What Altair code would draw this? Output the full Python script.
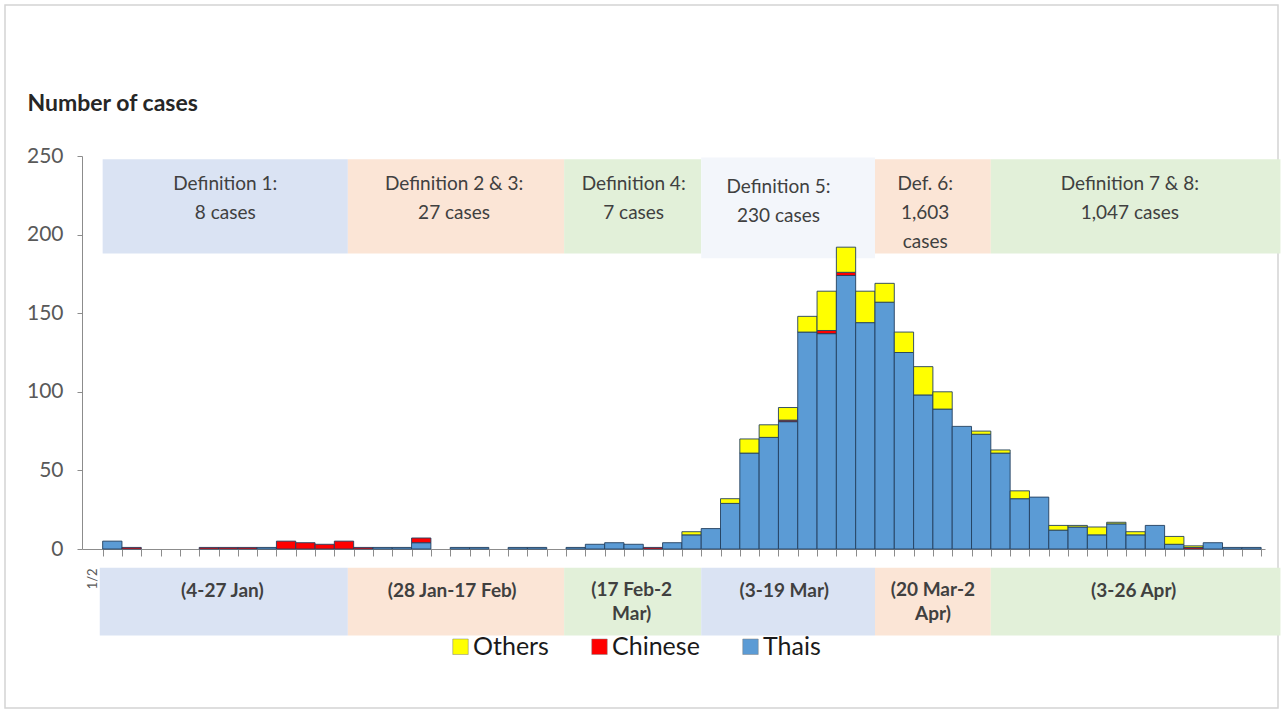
import altair as alt
import pandas as pd

# ---- data (2-day bins, index 0..59) ----
bins = list(range(60))
thais = [5, 0, 0, 0, 0, 0, 0, 0, 1, 0,
         0, 0, 0, 0, 1, 1, 4, 0, 1, 1,
         0, 1, 1, 0, 1, 3, 4, 3, 0, 4,
         9, 13, 29, 61, 71, 81, 138, 137, 174, 144,
         157, 125, 98, 89, 78, 73, 61, 32, 33, 12,
         14, 9, 16, 9, 15, 3, 0, 4, 1, 1]
chinese = [0, 1, 0, 0, 0, 1, 1, 1, 0, 5,
           4, 3, 5, 1, 0, 0, 3, 0, 0, 0,
           0, 0, 0, 0, 0, 0, 0, 0, 1, 0,
           0, 0, 0, 0, 0, 1, 0, 2, 2, 0,
           0, 0, 0, 0, 0, 0, 0, 0, 0, 0,
           0, 0, 0, 0, 0, 0, 1, 0, 0, 0]
others = [0, 0, 0, 0, 0, 0, 0, 0, 0, 0,
          0, 0, 0, 0, 0, 0, 0, 0, 0, 0,
          0, 0, 0, 0, 0, 0, 0, 0, 0, 0,
          2, 0, 3, 9, 8, 8, 10, 25, 16, 20,
          12, 13, 18, 11, 0, 2, 2, 5, 0, 3,
          1, 5, 1, 2, 0, 5, 1, 0, 0, 0]

groups = ["Others", "Chinese", "Thais"]
group_colors = ["#ffff00", "#ff0000", "#5b9bd5"]

# case-definition periods (in bin units)
period_start = [0, 12.7, 23.9, 31.0, 40.0, 46.0]
period_end = [12.7, 23.9, 31.0, 40.0, 46.0, 61.0]
def_labels = ["Definition 1:\n8 cases", "Definition 2 & 3:\n27 cases",
              "Definition 4:\n7  cases", "Definition 5:\n230 cases",
              "Def. 6:\n1,603\ncases", "Definition 7 & 8:\n1,047 cases"]
date_labels = ["(4-27 Jan)", "(28 Jan-17 Feb)", "(17 Feb-2\nMar)",
               "(3-19 Mar)", "(20 Mar-2\nApr)", "(3-26 Apr)"]
first_tick_label = "1/2"
y_ticks = [0, 50, 100, 150, 200, 250]

# ---- build tables ----
rows = []
for i in bins:
    for g, arr, o in (("Thais", thais, 0), ("Chinese", chinese, 1), ("Others", others, 2)):
        if arr[i] > 0:
            rows.append(dict(bin=i, bin_end=i + 1, group=g, cases=arr[i], order=o))
bars_df = pd.DataFrame(rows)

top_fill = ["#dae3f3", "#fbe5d6", "#e2f0d9", "#f3f6fb", "#fbe5d6", "#e2f0d9"]
bot_fill = ["#dae3f3", "#fbe5d6", "#e2f0d9", "#dae3f3", "#fbe5d6", "#e2f0d9"]
top_y1 = [248, 248, 248, 249, 248, 248]
top_y2 = [188, 188, 188, 185, 188, 188]
top_text_x = [6.35, 18.2, 27.5, 35.0, 42.6, 53.2]
top_text_y = [232.5, 232.5, 232.5, 230.0, 232.5, 232.5]
bot_text_x = [6.2, 18.1, 27.4, 35.3, 43.0, 53.4]
bot_text_y = [-26.4, -26.4, -25.8, -26.4, -25.8, -26.4]

top_df = pd.DataFrame(dict(x1=period_start, x2=period_end, y1=top_y1, y2=top_y2,
                           fill=top_fill, label=def_labels, tx=top_text_x, ty=top_text_y))
bot_start = [-0.15] + period_start[1:]
bot_df = pd.DataFrame(dict(x1=bot_start, x2=period_end, y1=[-12] * 6, y2=[-55] * 6,
                           fill=bot_fill, label=date_labels, tx=bot_text_x, ty=bot_text_y))
tick_df = pd.DataFrame(dict(x=[-0.5], y=[-19.0], label=[first_tick_label]))

FONT = "Lato"
xs = alt.Scale(domain=[-1.07, 60.2], nice=False, zero=False)
ys = alt.Scale(domain=[0, 250], nice=False, zero=False)
x_axis = alt.Axis(values=list(range(0, 61)), labels=False, tickSize=7, title=None,
                  tickColor="#8c8c8c", domainColor="#8c8c8c", grid=False)
y_axis = alt.Axis(values=y_ticks, tickSize=5, grid=False,
                  tickColor="#8c8c8c", domainColor="#8c8c8c",
                  labelFont=FONT, labelFontSize=21, labelColor="#595959", labelPadding=14,
                  title="Number of cases", titleAngle=0, titleX=-55, titleY=-53,
                  titleAlign="left", titleBaseline="middle", titleFont=FONT,
                  titleFontSize=23, titleFontWeight="bold", titleColor="#262626")


def X(field):
    return alt.X(field, type="quantitative", scale=xs, axis=x_axis)


def Y(field):
    return alt.Y(field, type="quantitative", scale=ys, axis=y_axis)


frame = alt.Chart(pd.DataFrame({"a": [0]})).mark_rect(
    fill="white", fillOpacity=0, stroke="#d4d4d4", strokeWidth=1.5
).encode(x=alt.value(-77), x2=alt.value(1196), y=alt.value(-151), y2=alt.value(552))

top_boxes = alt.Chart(top_df).mark_rect().encode(
    x=X("x1"), x2="x2:Q", y=Y("y1"), y2="y2:Q",
    fill=alt.Fill("fill:N", scale=None),
)
bot_boxes = alt.Chart(bot_df).mark_rect().encode(
    x=X("x1"), x2="x2:Q", y=Y("y1"), y2="y2:Q",
    fill=alt.Fill("fill:N", scale=None),
)

bars = alt.Chart(bars_df).transform_stack(
    stack="cases", groupby=["bin"], as_=["y0", "y1"],
    sort=[alt.SortField("order", order="ascending")],
).mark_rect(stroke="#22405f", strokeWidth=0.9).encode(
    x=X("bin"), x2="bin_end:Q",
    y=Y("y0"), y2="y1:Q",
    color=alt.Color("group:N",
                    scale=alt.Scale(domain=groups, range=group_colors),
                    legend=alt.Legend(title=None, orient="none", direction="horizontal",
                                      legendX=366, legendY=478, symbolType="square",
                                      symbolSize=240, symbolStrokeColor="#7f7f7f",
                                      symbolStrokeWidth=0.5, labelFont=FONT,
                                      labelFontSize=25, labelColor="#1a1a1a",
                                      labelOffset=0, columnPadding=38, padding=0)),
)

top_text = alt.Chart(top_df).mark_text(
    font=FONT, fontSize=19, color="#404040", lineBreak="\n", lineHeight=29, baseline="middle"
).encode(x=X("tx"), y=Y("ty"), text="label:N")

bot_text = alt.Chart(bot_df).mark_text(
    font=FONT, fontSize=19, fontWeight="bold", color="#404040", lineBreak="\n",
    lineHeight=24, baseline="middle"
).encode(x=X("tx"), y=Y("ty"), text="label:N")

tick_text = alt.Chart(tick_df).mark_text(
    font=FONT, fontSize=13, color="#595959", angle=270, baseline="middle"
).encode(x=X("x"), y=Y("y"), text="label:N")

chart = alt.layer(frame, top_boxes, bot_boxes, bars, top_text, bot_text, tick_text).properties(
    width=1183, height=393,
    autosize=alt.AutoSizeParams(type="none"),
    padding={"left": 82, "top": 156, "right": 18, "bottom": 163},
    background="white",
).configure_view(stroke=None)

chart.save("out.html", embed_options={"renderer": "svg", "actions": False})
